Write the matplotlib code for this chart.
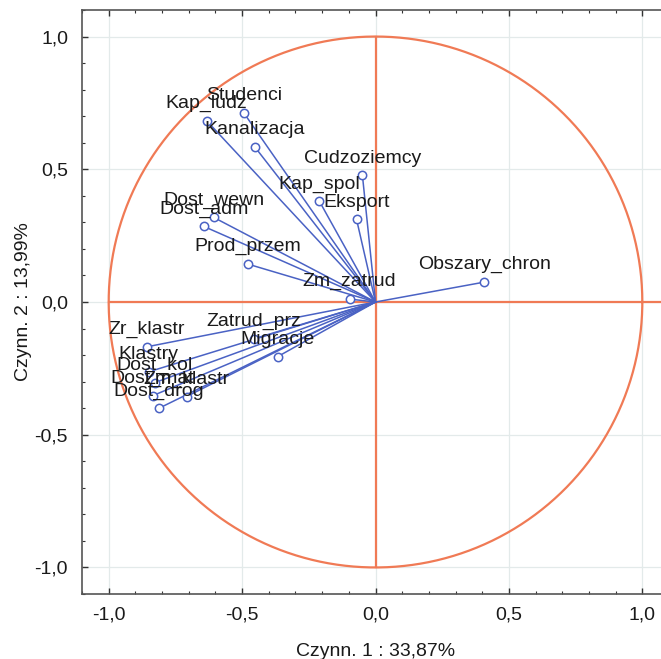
import numpy as np
import matplotlib
matplotlib.use("Agg")
import matplotlib.pyplot as plt
from matplotlib.ticker import MultipleLocator, FuncFormatter

plt.rcParams['font.family'] = ['Liberation Sans', 'DejaVu Sans']

# Factor loadings of each variable on the first two factors
variables = ["Studenci", "Kap_ludz", "Kanalizacja", "Cudzoziemcy", "Kap_spol",
             "Eksport", "Dost_wewn", "Dost_adm", "Prod_przem", "Zm_zatrud",
             "Obszary_chron", "Zatrud_prz", "Migracje", "Zr_klastr", "Klastry",
             "Dost_kol", "Dost_mat", "Zm_klastr", "Dost_drog"]
factor1 = [-0.494, -0.633, -0.453, -0.049, -0.210,
           -0.071, -0.607, -0.644, -0.479, -0.097,
           0.408, -0.457, -0.367, -0.858, -0.850,
           -0.828, -0.835, -0.708, -0.813]
factor2 = [0.713, 0.683, 0.585, 0.477, 0.379,
           0.311, 0.319, 0.285, 0.143, 0.011,
           0.075, -0.139, -0.206, -0.169, -0.263,
           -0.304, -0.353, -0.356, -0.401]

xlabel = "Czynn. 1 : 33,87%"
ylabel = "Czynn. 2 : 13,99%"

circle_col = "#f07a55"
vec_col = "#4a62c4"

fig = plt.figure(figsize=(6.61, 6.59), dpi=100)
ax = fig.add_axes([82 / 661, 65 / 659, 587 / 661, 584 / 659])
ax.set_xlim(-1.1, 1.1)
ax.set_ylim(-1.1, 1.1)

# unit circle and the axes through the origin
t = np.linspace(0, 2 * np.pi, 400)
ax.plot(np.cos(t), np.sin(t), color=circle_col, lw=1.6, zorder=2)
ax.plot([-1, 1.1], [0, 0], color=circle_col, lw=1.6, zorder=2)
ax.plot([0, 0], [-1, 1], color=circle_col, lw=1.6, zorder=2)

# loading vectors
for name, x, y in zip(variables, factor1, factor2):
    ax.plot([0, x], [0, y], color=vec_col, lw=1.1, zorder=3)
    ax.plot([x], [y], marker="o", ms=6, mfc="white", mec=vec_col, mew=1.1,
            zorder=4)
    ax.annotate(name, (x, y), xytext=(0, 12.5), textcoords="offset points",
                ha="center", va="center", fontsize=14, color="#1a1a1a",
                zorder=5)

ax.xaxis.set_major_locator(MultipleLocator(0.5))
ax.yaxis.set_major_locator(MultipleLocator(0.5))
ax.xaxis.set_minor_locator(MultipleLocator(0.1))
ax.yaxis.set_minor_locator(MultipleLocator(0.1))
comma = FuncFormatter(lambda v, p: f"{v:.1f}".replace(".", ",").replace("-0,0", "0,0"))
ax.xaxis.set_major_formatter(comma)
ax.yaxis.set_major_formatter(comma)
ax.tick_params(which="both", direction="in", top=True, right=True,
               labelsize=14, colors="#333333", labelcolor="#1a1a1a")
ax.tick_params(which="major", length=4, width=1)
ax.tick_params(which="minor", length=2.5, width=0.8)
ax.tick_params(axis="x", pad=9)
ax.tick_params(axis="y", pad=10)
ax.grid(True, which="major", color="#e3eaea", lw=0.9, zorder=0)
ax.set_axisbelow(True)
for s in ax.spines.values():
    s.set_color("#555555")
    s.set_linewidth(1.2)

ax.set_xlabel(xlabel, fontsize=14, color="#1a1a1a", labelpad=14)
ax.set_ylabel(ylabel, fontsize=14, color="#1a1a1a", labelpad=2)

fig.savefig("out.png", dpi=100)
